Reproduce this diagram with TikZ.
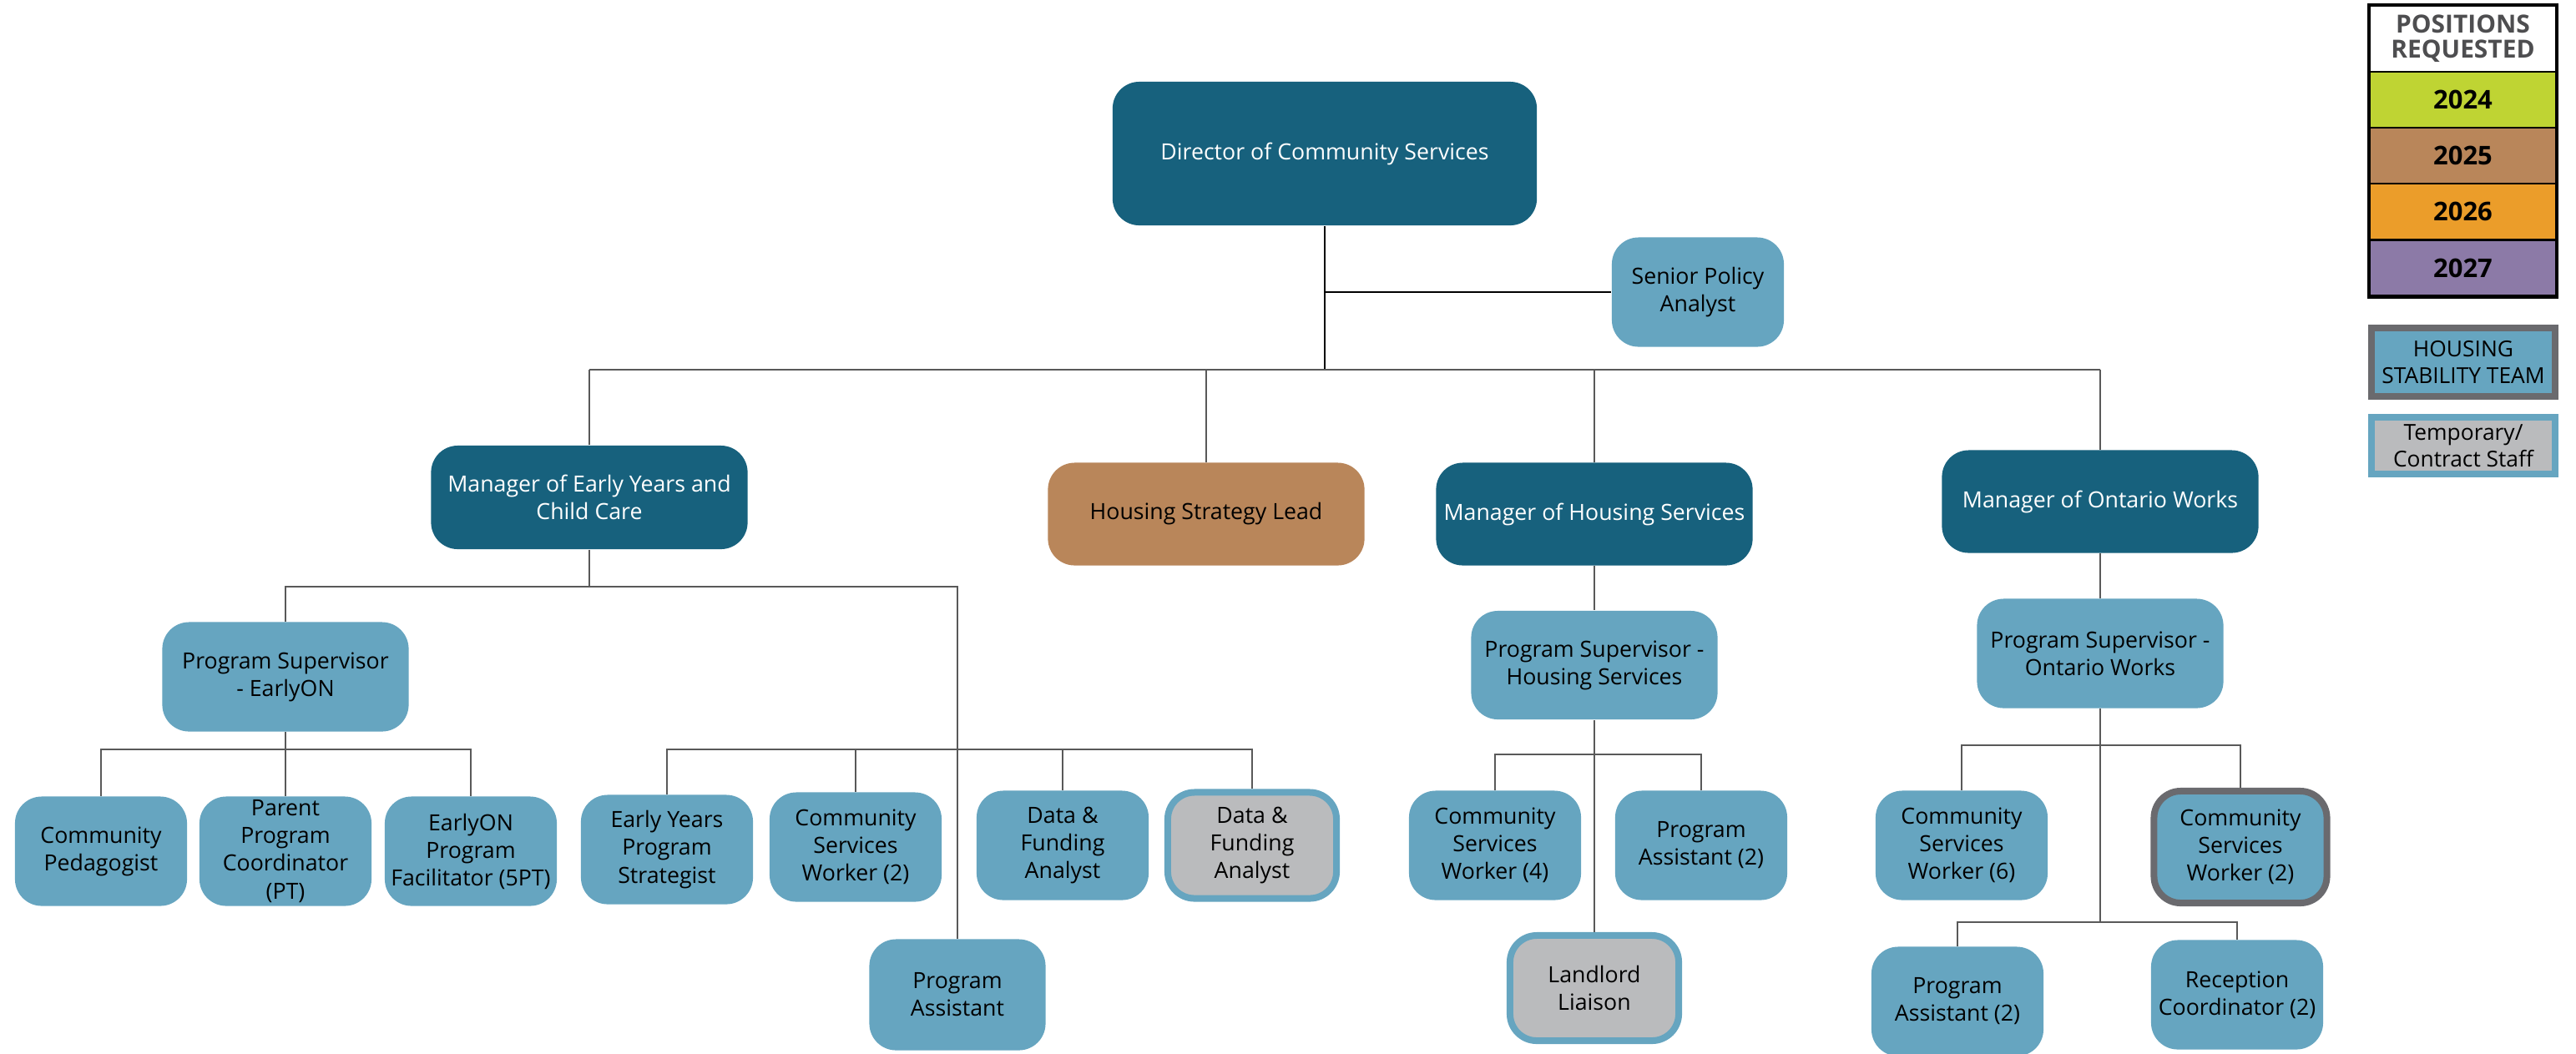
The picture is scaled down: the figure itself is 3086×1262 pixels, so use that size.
\documentclass[tikz,border=0pt]{standalone}
\usepackage{fontspec}
\setmainfont{Open Sans}
\usetikzlibrary{positioning}

\definecolor{mgrteal}{HTML}{17617D}
\definecolor{staffblue}{HTML}{66A5C0}
\definecolor{tempgrey}{HTML}{BABBBD}
\definecolor{hstgrey}{HTML}{6A6A6E}
\definecolor{linegrey}{HTML}{595959}
\definecolor{hdrgrey}{HTML}{4E4E50}
\definecolor{yr2024}{HTML}{BFD433}
\definecolor{yr2025}{HTML}{B9865A}
\definecolor{yr2026}{HTML}{EB9D2A}
\definecolor{yr2027}{HTML}{8C7AA7}

\tikzset{
  box/.style={rounded corners=0.32cm, align=center, inner sep=0pt,
    minimum width=2.06cm, minimum height=1.31cm,
    font=\fontsize{7.6}{9.4}\selectfont},
  mgr/.style={box, fill=mgrteal, text=white, minimum width=3.79cm, minimum height=1.23cm},
  staff/.style={box, fill=staffblue},
  tempstaff/.style={box, fill=tempgrey, draw=staffblue, line width=0.08cm,
    minimum width=2.02cm, minimum height=1.27cm},
  hststaff/.style={box, fill=staffblue, draw=hstgrey, line width=0.08cm,
    minimum width=2.07cm, minimum height=1.34cm},
  link/.style={draw=linegrey, line width=0.6pt},
  toplink/.style={draw=black, line width=0.8pt},
  legcell/.style={draw=black, line width=0.6pt, minimum width=2.23cm, minimum height=0.67cm,
    inner sep=0pt, font=\fontsize{8.8}{10}\selectfont\bfseries},
  legkey/.style={align=center, inner sep=0pt, line width=0.08cm,
    minimum width=2.20cm, font=\fontsize{7.5}{9.2}\selectfont}
}

\begin{document}
\begin{tikzpicture}[x=0.01cm, y=-0.01cm]
        \useasboundingbox (0,0) rectangle (3086,1262);

        % Director and top row
        \node[box, fill=mgrteal, text=white, minimum width=5.08cm, minimum height=1.72cm] (dir) at (1587,184) {Director of Community Services};
        \node[staff] (spa) at (2034,350) {Senior Policy\\Analyst};

        \node[mgr, minimum height=1.24cm] (mey) at (706,596) {Manager of Early Years and\\Child Care};
        \node[box, fill=yr2025, minimum width=3.79cm, minimum height=1.23cm] (hsl) at (1445,616) {Housing Strategy Lead};
        \node[mgr] (mhs) at (1910,616) {Manager of Housing Services};
        \node[mgr] (mow) at (2516,601) {Manager of Ontario Works};

        \coordinate (topbus) at (0,443);
        \draw[toplink] (dir.south) -- (dir.south |- topbus);
        \draw[toplink] (dir.south |- spa.west) -- (spa.west);
        \draw[link, line width=0.8pt] (mey.north |- topbus) -- (mow.north |- topbus);
        \draw[link] (mey.north) -- (mey.north |- topbus);
        \draw[link] (hsl.north) -- (hsl.north |- topbus);
        \draw[link] (mhs.north) -- (mhs.north |- topbus);
        \draw[link] (mow.north) -- (mow.north |- topbus);

        % Early Years and Child Care
        \node[staff, minimum width=2.95cm] (psey) at (342,811) {Program Supervisor\\- EarlyON};

        \node[staff] (cped) at (121,1020) {Community\\Pedagogist};
        \node[staff] (ppc) at (342,1020) {Parent\\Program\\Coordinator\\(PT)};
        \node[staff] (epf) at (564,1020) {EarlyON\\Program\\Facilitator (5PT)};

        \node[staff] (eyps) at (799,1018) {Early Years\\Program\\Strategist};
        \node[staff] (csw2ey) at (1025,1015) {Community\\Services\\Worker (2)};
        \node[staff, minimum width=2.11cm, minimum height=1.33cm] (paey) at (1147,1192) {Program\\Assistant};
        \node[staff] (dfa) at (1273,1013) {Data \&\\Funding\\Analyst};
        \node[tempstaff] (dfat) at (1500,1013) {Data \&\\Funding\\Analyst};

        \coordinate (eybus) at (0,703);
        \coordinate (eobus) at (0,898);
        \draw[link] (mey.south) -- (mey.south |- eybus);
        \draw[link] (psey.north) |- (paey.north |- eybus) -- (paey.north);
        \draw[link] (psey.south) -- (ppc.north);
        \draw[link] (cped.north) |- (epf.north |- eobus) -- (epf.north);
        \draw[link] (eyps.north) |- (dfat.north |- eobus) -- (dfat.north);
        \draw[link] (csw2ey.north) -- (csw2ey.north |- eobus);
        \draw[link] (dfa.north) -- (dfa.north |- eobus);

        % Housing Services
        \node[staff, minimum width=2.95cm, minimum height=1.30cm] (pshs) at (1910,797) {Program Supervisor -\\Housing Services};
        \node[staff] (csw4) at (1791,1013) {Community\\Services\\Worker (4)};
        \node[staff] (pa2hs) at (2038,1013) {Program\\Assistant (2)};
        \node[tempstaff, minimum height=1.26cm] (ll) at (1910,1184) {Landlord\\Liaison};

        \coordinate (hsbus) at (0,904);
        \draw[link] (mhs.south) -- (pshs.north);
        \draw[link] (pshs.south) -- (ll.north);
        \draw[link] (csw4.north) |- (pa2hs.north |- hsbus) -- (pa2hs.north);

        % Ontario Works
        \node[staff, minimum width=2.95cm] (psow) at (2516,783) {Program Supervisor -\\Ontario Works};
        \node[staff] (csw6) at (2350,1013) {Community\\Services\\Worker (6)};
        \node[hststaff] (csw2ow) at (2684,1015) {Community\\Services\\Worker (2)};
        \node[staff] (pa2ow) at (2345,1200) {Program\\Assistant (2)};
        \node[staff] (rc2) at (2680,1192) {Reception\\Coordinator (2)};

        \coordinate (owbus) at (0,893);
        \coordinate (owbustwo) at (0,1105);
        \draw[link] (mow.south) -- (psow.north);
        \draw[link] (psow.south) -- (psow.south |- owbustwo);
        \draw[link] (csw6.north) |- (csw2ow.north |- owbus) -- (csw2ow.north);
        \draw[link] (pa2ow.north) |- (rc2.north |- owbustwo) -- (rc2.north);

        % Legend
        \node[legcell, fill=white, text=hdrgrey, align=center, minimum height=0.79cm, font=\fontsize{8.5}{8.6}\selectfont\bfseries] (hdr) at (2950.5,46.5) {POSITIONS\\REQUESTED};
        \node[legcell, fill=yr2024] (y2024) at (2950.5,119.5) {2024};
        \node[legcell, fill=yr2025] (y2025) at (2950.5,186.5) {2025};
        \node[legcell, fill=yr2026] (y2026) at (2950.5,253.5) {2026};
        \node[legcell, fill=yr2027] (y2027) at (2950.5,321) {2027};
        \draw[line width=1.2pt] (hdr.north west) rectangle (y2027.south east);

        \node[legkey, fill=staffblue, draw=hstgrey, minimum height=0.82cm] (hstkey) at (2951,434) {HOUSING\\STABILITY TEAM};
        \node[legkey, fill=tempgrey, draw=staffblue, minimum height=0.68cm] (tempkey) at (2951,534) {Temporary/\\Contract Staff};
\end{tikzpicture}
\end{document}
